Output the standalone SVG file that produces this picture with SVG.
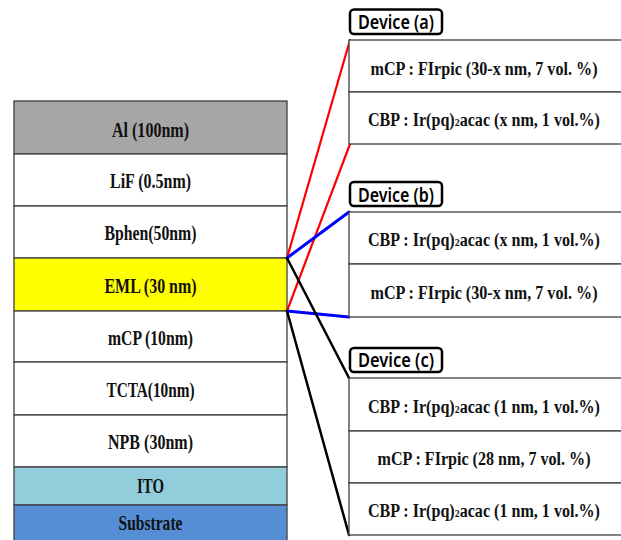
<svg xmlns="http://www.w3.org/2000/svg" width="621" height="540" viewBox="0 0 621 540">
<style>
.layer{stroke:#404040;stroke-width:1.3}
.lt{font-family:"Liberation Serif","Times New Roman",serif;font-weight:bold;font-size:20px;fill:#111;text-anchor:middle}
.rt{font-family:"Liberation Serif","Times New Roman",serif;font-weight:bold;font-size:18px;fill:#111;text-anchor:middle}
.sub{font-size:11px}
.box{fill:#fff;stroke:#404040;stroke-width:1.3}
.lbl{fill:#fff;stroke:#000;stroke-width:2.5}
.lbt{font-family:"Noto Sans","Liberation Sans",sans-serif;font-weight:600;font-size:19px;fill:#000;text-anchor:middle}
.conn{fill:none;stroke-linecap:round}
</style>
<rect width="621" height="540" fill="#fff"/>
<g id="stack">
<g id="al"><rect class="layer" x="14" y="101" width="273" height="53" fill="#A6A6A6"/><text class="lt" x="150.5" y="136.5" textLength="77" lengthAdjust="spacingAndGlyphs">Al (100nm)</text></g>
<g id="lif"><rect class="layer" x="14" y="154" width="273" height="52" fill="#fff"/><text class="lt" x="150.5" y="188" textLength="81" lengthAdjust="spacingAndGlyphs">LiF (0.5nm)</text></g>
<g id="bphen"><rect class="layer" x="14" y="206" width="273" height="52" fill="#fff"/><text class="lt" x="150.5" y="240" textLength="92" lengthAdjust="spacingAndGlyphs">Bphen(50nm)</text></g>
<g id="eml"><rect class="layer" x="14" y="258" width="273" height="53" fill="#FFFF00"/><text class="lt" x="150.5" y="292.5" textLength="92" lengthAdjust="spacingAndGlyphs">EML (30 nm)</text></g>
<g id="mcp"><rect class="layer" x="14" y="311" width="273" height="51" fill="#fff"/><text class="lt" x="150.5" y="345" textLength="85" lengthAdjust="spacingAndGlyphs">mCP (10nm)</text></g>
<g id="tcta"><rect class="layer" x="14" y="362" width="273" height="53" fill="#fff"/><text class="lt" x="150.5" y="397" textLength="88" lengthAdjust="spacingAndGlyphs">TCTA(10nm)</text></g>
<g id="npb"><rect class="layer" x="14" y="415" width="273" height="52" fill="#fff"/><text class="lt" x="150.5" y="449" textLength="85" lengthAdjust="spacingAndGlyphs">NPB (30nm)</text></g>
<g id="ito"><rect class="layer" x="14" y="467" width="273" height="38" fill="#92CDDC"/><text class="lt" x="150.5" y="493" textLength="27" lengthAdjust="spacingAndGlyphs">ITO</text></g>
<g id="substrate"><rect class="layer" x="14" y="505" width="273" height="40" fill="#558ED5"/><text class="lt" x="150.5" y="530" textLength="64" lengthAdjust="spacingAndGlyphs">Substrate</text></g>
</g>
<g id="connectors" class="conn">
<line x1="287" y1="258" x2="350" y2="40" stroke="#FF0000" stroke-width="2.2"/>
<line x1="287" y1="311" x2="350" y2="144" stroke="#FF0000" stroke-width="2.2"/>
<line x1="287" y1="258" x2="349" y2="212" stroke="#0000FF" stroke-width="3"/>
<line x1="287" y1="311" x2="349" y2="317" stroke="#0000FF" stroke-width="3"/>
<line x1="287" y1="258" x2="349" y2="378" stroke="#000" stroke-width="2.5"/>
<line x1="287" y1="311" x2="349" y2="535" stroke="#000" stroke-width="2.5"/>
</g>
<g id="device-a">
<rect class="lbl" x="350" y="9.5" width="92" height="24.5" rx="4"/>
<text class="lbt" x="396" y="29" textLength="76" lengthAdjust="spacingAndGlyphs">Device (a)</text>
<rect class="box" x="349" y="40" width="275" height="52"/>
<rect class="box" x="349" y="92" width="275" height="52"/>
<text class="rt" x="484" y="75" textLength="227" lengthAdjust="spacingAndGlyphs">mCP : FIrpic (30-x nm, 7 vol. %)</text>
<text class="rt" x="484" y="126" textLength="232" lengthAdjust="spacingAndGlyphs">CBP : Ir(pq)<tspan class="sub">2</tspan>acac (x nm, 1 vol.%)</text>
</g>
<g id="device-b">
<rect class="lbl" x="350" y="182" width="92" height="24" rx="4"/>
<text class="lbt" x="396" y="202" textLength="76" lengthAdjust="spacingAndGlyphs">Device (b)</text>
<rect class="box" x="349" y="212" width="275" height="52"/>
<rect class="box" x="349" y="264" width="275" height="53"/>
<text class="rt" x="484" y="245.5" textLength="232" lengthAdjust="spacingAndGlyphs">CBP : Ir(pq)<tspan class="sub">2</tspan>acac (x nm, 1 vol.%)</text>
<text class="rt" x="484" y="298.5" textLength="227" lengthAdjust="spacingAndGlyphs">mCP : FIrpic (30-x nm, 7 vol. %)</text>
</g>
<g id="device-c">
<rect class="lbl" x="350" y="348" width="92" height="24" rx="4"/>
<text class="lbt" x="396" y="367" textLength="76" lengthAdjust="spacingAndGlyphs">Device (c)</text>
<rect class="box" x="349" y="378" width="275" height="53"/>
<rect class="box" x="349" y="431" width="275" height="52"/>
<rect class="box" x="349" y="483" width="275" height="52"/>
<text class="rt" x="484" y="412.5" textLength="232" lengthAdjust="spacingAndGlyphs">CBP : Ir(pq)<tspan class="sub">2</tspan>acac (1 nm, 1 vol.%)</text>
<text class="rt" x="484" y="464.5" textLength="213" lengthAdjust="spacingAndGlyphs">mCP : FIrpic (28 nm, 7 vol. %)</text>
<text class="rt" x="484" y="516.5" textLength="232" lengthAdjust="spacingAndGlyphs">CBP : Ir(pq)<tspan class="sub">2</tspan>acac (1 nm, 1 vol.%)</text>
</g>
</svg>
